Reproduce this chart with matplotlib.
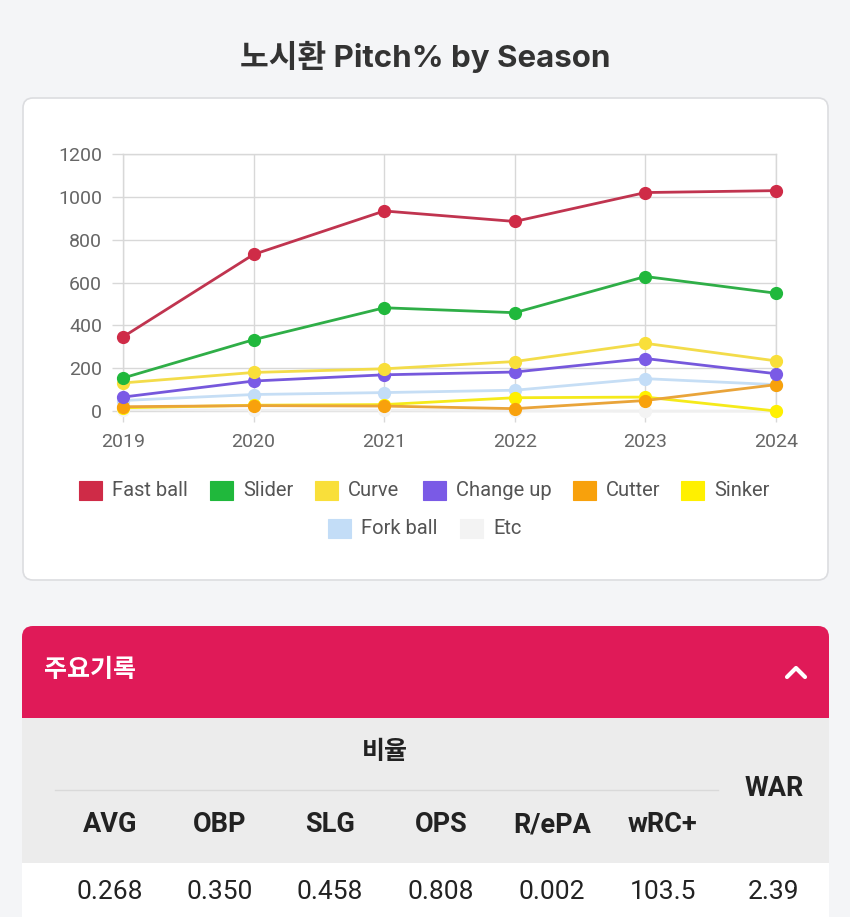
import matplotlib
matplotlib.use("Agg")
import matplotlib.pyplot as plt
from matplotlib.patches import FancyBboxPatch, Rectangle

# ---------------- data ----------------
years = [2019, 2020, 2021, 2022, 2023, 2024]
fast_ball = [346, 731, 934, 885, 1020, 1029]
slider = [154, 333, 482, 459, 628, 550]
curve = [131, 180, 197, 231, 316, 234]
change_up = [65, 140, 169, 182, 245, 174]
cutter = [20, 25, 23, 11, 49, 123]
sinker = [15, 27, 30, 62, 65, 0]
fork_ball = [49, 77, 86, 97, 151, 123]
etc = [6, 4, 4, 2, 0, 0]

series_names = ["Fast ball", "Slider", "Curve", "Change up", "Cutter", "Sinker", "Fork ball", "Etc"]
series_values = [fast_ball, slider, curve, change_up, cutter, sinker, fork_ball, etc]
series_colors = ["#cf2b47", "#20b83c", "#f9df3a", "#7a5ae6", "#f8a10c", "#fff000", "#c3ddf7", "#f3f3f3"]
line_colors = ["#c0344f", "#2fae47", "#f3dc4a", "#7658dc", "#e9a43a", "#f5ea1a", "#c6def5", "#f0f0f0"]

y_ticks = [0, 200, 400, 600, 800, 1000, 1200]

title_text = "노시환 Pitch% by Season"
section_title = "주요기록"
group_label = "비율"
stat_cols = ["AVG", "OBP", "SLG", "OPS", "R/ePA", "wRC+"]
stat_vals = ["0.268", "0.350", "0.458", "0.808", "0.002", "103.5"]
war_label = "WAR"
war_value = "2.39"

# ---------------- figure ----------------
W, H = 850, 917
fig = plt.figure(figsize=(W / 100, H / 100), dpi=100, facecolor="#f4f5f7")

bg = fig.add_axes([0, 0, 1, 1])
bg.set_xlim(0, W)
bg.set_ylim(H, 0)
bg.axis("off")
bg.set_zorder(0)

# chart card
bg.add_patch(FancyBboxPatch((23, 98), 805, 482,
                            boxstyle="round,pad=0,rounding_size=10",
                            facecolor="white", edgecolor="#dcdde0", lw=1.2))

# title
fig.text(425 / W, 1 - 57 / H, title_text, ha="center", va="center",
         fontsize=22.5, fontweight="bold", color="#333333",
         family=["Inter", "Noto Sans CJK KR"])

# ---------------- chart ----------------
x0, x1, yt, yb = 123, 776, 154, 411
ax = fig.add_axes([x0 / W, 1 - yb / H, (x1 - x0) / W, (yb - yt) / H])
ax.set_zorder(2)
ax.patch.set_alpha(0)
ax.set_xlim(years[0], years[-1])
ax.set_ylim(y_ticks[0], y_ticks[-1])
ax.set_xticks(years)
ax.set_yticks(y_ticks)
grid_c = "#d8d8d8"
ax.grid(True, color=grid_c, lw=1)
for s in ax.spines.values():
    s.set_color(grid_c)
    s.set_linewidth(1)
ax.tick_params(axis="both", length=8, width=1, color=grid_c,
               labelsize=14, labelcolor="#666666")
ax.tick_params(axis="y", pad=7)
ax.tick_params(axis="x", pad=8)
for lab in ax.get_xticklabels() + ax.get_yticklabels():
    lab.set_family("Roboto")
ax.set_axisbelow(True)

n = len(series_names)
for i, (name, vals, col, lcol) in enumerate(zip(series_names, series_values, series_colors, line_colors)):
    z = 10 + (n - i) * 2
    ax.plot(years, vals, color=lcol, lw=2, zorder=z, clip_on=False)
    ax.plot(years, vals, linestyle="none", marker="o", ms=8.5, color=col,
            markeredgecolor=col, zorder=z + 1, clip_on=False)

# ---------------- legend ----------------
row1_boxes = [79, 210, 315, 423, 573, 681]
row2_boxes = [328, 460]
box_x = row1_boxes + row2_boxes
box_y = [490] * 6 + [528] * 2
for name, col, bx, by in zip(series_names, series_colors, box_x, box_y):
    bg.add_patch(Rectangle((bx, by - 9.5), 23, 19, facecolor=col, edgecolor=col, lw=0.8))
    bg.text(bx + 33, by, name, ha="left", va="center", fontsize=14.5,
            color="#555555", family="Roboto")

# ---------------- stats section ----------------
bg.add_patch(FancyBboxPatch((22, 626), 807, 120,
                            boxstyle="round,pad=0,rounding_size=11",
                            facecolor="#e01a58", edgecolor="none"))
bg.add_patch(Rectangle((22, 718), 807, 145, facecolor="#ececec", edgecolor="none"))
bg.add_patch(Rectangle((22, 863), 807, 60, facecolor="white", edgecolor="none"))

bg.text(44, 670, section_title, ha="left", va="center", fontsize=18,
        fontweight="bold", color="white", family="Noto Sans CJK KR")
bg.plot([787, 796, 805], [677, 668, 677], color="white", lw=3,
        solid_capstyle="round", solid_joinstyle="round")

bg.text(385, 752, group_label, ha="center", va="center", fontsize=18,
        fontweight="bold", color="#222222", family="Noto Sans CJK KR")
bg.plot([55, 718], [790, 790], color="#d9d9d9", lw=1)
bg.text(774, 789, war_label, ha="center", va="center", fontsize=19.5,
        fontweight="bold", color="#222222", family="Roboto")

col_x = [110, 220, 330, 441, 552, 663]
for cx, lab, val in zip(col_x, stat_cols, stat_vals):
    bg.text(cx, 825, lab, ha="center", va="center", fontsize=19.5,
            fontweight="bold", color="#222222", family="Roboto")
    bg.text(cx, 892, val, ha="center", va="center", fontsize=19,
            color="#222222", family="Roboto")
bg.text(774, 892, war_value, ha="center", va="center", fontsize=19,
        color="#222222", family="Roboto")

fig.savefig("out.png", dpi=100, facecolor=fig.get_facecolor())
